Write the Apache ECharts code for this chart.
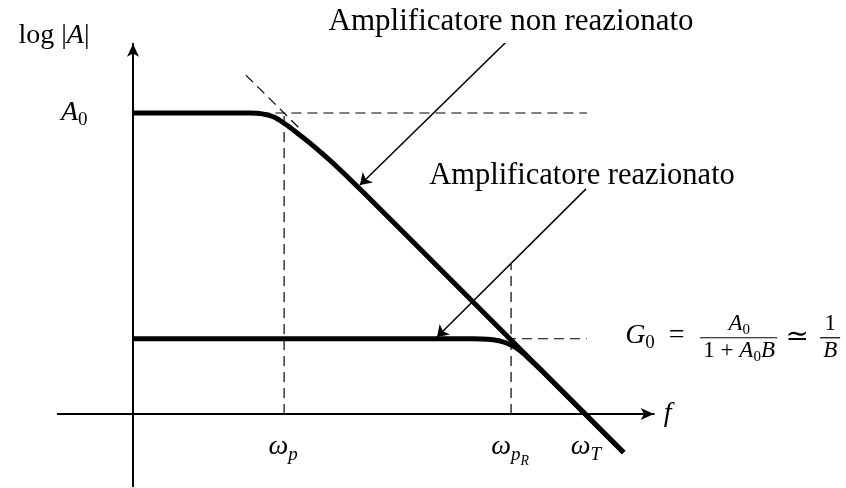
<!DOCTYPE html>
<html>
<head>
<meta charset="utf-8">
<title>Amplificatore reazionato</title>
<script src="https://cdn.jsdelivr.net/npm/echarts@6/dist/echarts.min.js"></script>
<style>
  html, body { margin: 0; padding: 0; background: #fff; }
  #bode { width: 846px; height: 488px; }
</style>
</head>
<body>
<div id="bode"></div>
<script>
  // asse x: log f, asse y: log|A| (unità arbitrarie, pendenza -1)
  var A0 = 10;
  var G0 = 2.5;
  var wp = 5.02;
  var wpR = 12.56;
  var wT = 15.08;

  var freqTicks = [wp, wpR, wT];
  var freqTickLabels = ['{m|ω}{si|p}', '{m|ω}{si|p}{ss|R}', '{m|ω}{si|T}'];
  var gainTicks = [A0];
  var gainTickLabels = ['{m|A}{s|0}'];

  // curve
  var openLoop = [[0, 10], [3.9, 10], [4.3, 9.97], [4.7, 9.86], [5.02, 9.66], [5.4, 9.38], [5.88, 9.0], [6.3, 8.64], [6.8, 8.19], [7.3, 7.71], [8.0, 7.02], [9.0, 6.02], [16.3, -1.28]];
  var closedLoop = [[0, 2.5], [11.3, 2.5], [11.8, 2.48], [12.2, 2.42], [12.56, 2.29], [12.86, 2.1], [13.2, 1.8], [13.6, 1.42], [14.2, 0.82], [16.3, -1.28]];

  // linee tratteggiate di riferimento
  var guideA0 = [[4.2, 10], [15.08, 10]];
  var guideG0 = [[11.86, 2.5], [15.08, 2.5]];
  var guideWp = [[wp, 0], [wp, 10]];
  var guideWpR = [[wpR, 0], [wpR, 5.0]];
  var asymptote = [[3.75, 11.26], [5.55, 9.47]];

  // frecce delle didascalie
  var arrowOpen = [[12.56, 12.52], [7.54, 7.61]];
  var arrowClosed = [[15.05, 7.48], [10.1, 2.56]];

  var serif = "'Liberation Serif', 'DejaVu Serif', serif";
  var mathRich = {
    m: { fontFamily: serif, fontStyle: 'italic', fontSize: 28, lineHeight: 28, verticalAlign: 'top', color: '#000' },
    r: { fontFamily: serif, fontSize: 28, lineHeight: 28, verticalAlign: 'top', color: '#000' },
    s: { fontFamily: serif, fontSize: 19, lineHeight: 19, verticalAlign: 'top', padding: [12, 0, 0, 0], color: '#000' },
    si: { fontFamily: serif, fontStyle: 'italic', fontSize: 19, lineHeight: 19, verticalAlign: 'top', padding: [12, 0, 0, 0], color: '#000' },
    ss: { fontFamily: serif, fontStyle: 'italic', fontSize: 14, lineHeight: 14, verticalAlign: 'top', padding: [21, 0, 0, 0], color: '#000' },
    fm: { fontFamily: serif, fontStyle: 'italic', fontSize: 23, lineHeight: 23, verticalAlign: 'top', color: '#000' },
    fr: { fontFamily: serif, fontSize: 23, lineHeight: 23, verticalAlign: 'top', color: '#000' },
    fs: { fontFamily: serif, fontSize: 15, lineHeight: 15, verticalAlign: 'top', padding: [10, 0, 0, 0], color: '#000' }
  };

  function dashed(data) {
    return {
      type: 'line', data: data, symbol: 'none', silent: true,
      lineStyle: { color: '#000', width: 1.2, type: [10, 6] }
    };
  }
  function curve(data) {
    return {
      type: 'line', data: data, symbol: 'none', smooth: 0.2, silent: true,
      lineStyle: { color: '#000', width: 5, cap: 'butt', join: 'round' }
    };
  }

  var chart = echarts.init(document.getElementById('bode'));
  chart.setOption({
    animation: false,
    backgroundColor: '#fff',
    grid: { left: 57.75, width: 596, top: 43.77, height: 442.47, containLabel: false, outerBoundsMode: 'none' },
    xAxis: {
      type: 'value', min: -2.5, max: 17.3,
      axisLine: { onZero: true, symbol: ['none', 'arrow'], symbolSize: [9, 13], lineStyle: { color: '#000', width: 2 } },
      axisTick: { show: false },
      splitLine: { show: false },
      axisLabel: { show: false }
    },
    yAxis: {
      type: 'value', min: -2.4, max: 12.3,
      axisLine: { onZero: true, symbol: ['none', 'arrow'], symbolSize: [9, 13], lineStyle: { color: '#000', width: 2 } },
      axisTick: { show: false },
      splitLine: { show: false },
      axisLabel: { show: false }
    },
    series: [
      dashed(guideA0), dashed(guideG0), dashed(guideWp), dashed(guideWpR), dashed(asymptote),
      curve(openLoop), curve(closedLoop),
      {
        type: 'lines', coordinateSystem: 'cartesian2d', polyline: false, silent: true,
        symbol: ['none', 'arrow'], symbolSize: [7, 11],
        lineStyle: { color: '#000', width: 1.5, opacity: 1, curveness: 0 },
        data: [{ coords: arrowOpen }, { coords: arrowClosed }]
      }
    ]
  });

  // testi ancorati alle coordinate del grafico
  function at(p) { return chart.convertToPixel({ gridIndex: 0 }, p); }
  function label(text, p, dx, dy, align, vAlign, font) {
    var q = at(p);
    return {
      type: 'text', x: q[0] + dx, y: q[1] + dy, silent: true,
      style: {
        text: text, fill: '#000', font: font || ('28px ' + serif), rich: mathRich,
        align: align, verticalAlign: vAlign, textAlign: align, textVerticalAlign: vAlign
      }
    };
  }
  function bar(p, dx0, dx1, dy) {
    var q = at(p);
    return {
      type: 'line', silent: true,
      shape: { x1: q[0] + dx0, y1: q[1] + dy, x2: q[0] + dx1, y2: q[1] + dy },
      style: { stroke: '#000', lineWidth: 1.2 }
    };
  }

  var tickTexts = freqTicks.map(function (v, i) {
    return label(freqTickLabels[i], [v, 0], -1, 19, 'center', 'top');
  });
  var gainTexts = gainTicks.map(function (v, i) {
    return label(gainTickLabels[i], [0, v], -72, -14, 'left', 'top');
  });

  var g0Anchor = [16.35, G0];
  chart.setOption({
    graphic: tickTexts.concat(gainTexts, [
      label('{r|log |}{m|A}{r||}', [0, 12.3], -79, -22, 'center', 'top'),
      label('{m|f}', [17.3, 0], 10, -14, 'left', 'top'),
      label('Amplificatore non reazionato', arrowOpen[0], 0, -15, 'center', 'middle', '31px ' + serif),
      label('Amplificatore reazionato', arrowClosed[0], -4, -13, 'center', 'middle', '30.5px ' + serif),
      label('{m|G}{s|0}{r|  =}', g0Anchor, 0, -17, 'left', 'top'),
      label('{fm|A}{fs|0}', g0Anchor, 114, -3, 'center', 'bottom'),
      bar(g0Anchor, 75, 152, -1),
      label('{fr|1 + }{fm|A}{fs|0}{fm|B}', g0Anchor, 114, 1, 'center', 'top'),
      label('{r|≃}', g0Anchor, 172, -1, 'center', 'middle'),
      label('{fr|1}', g0Anchor, 205, -3, 'center', 'bottom'),
      bar(g0Anchor, 195, 215, -1),
      label('{fm|B}', g0Anchor, 205, 1, 'center', 'top')
    ])
  });
</script>
</body>
</html>
